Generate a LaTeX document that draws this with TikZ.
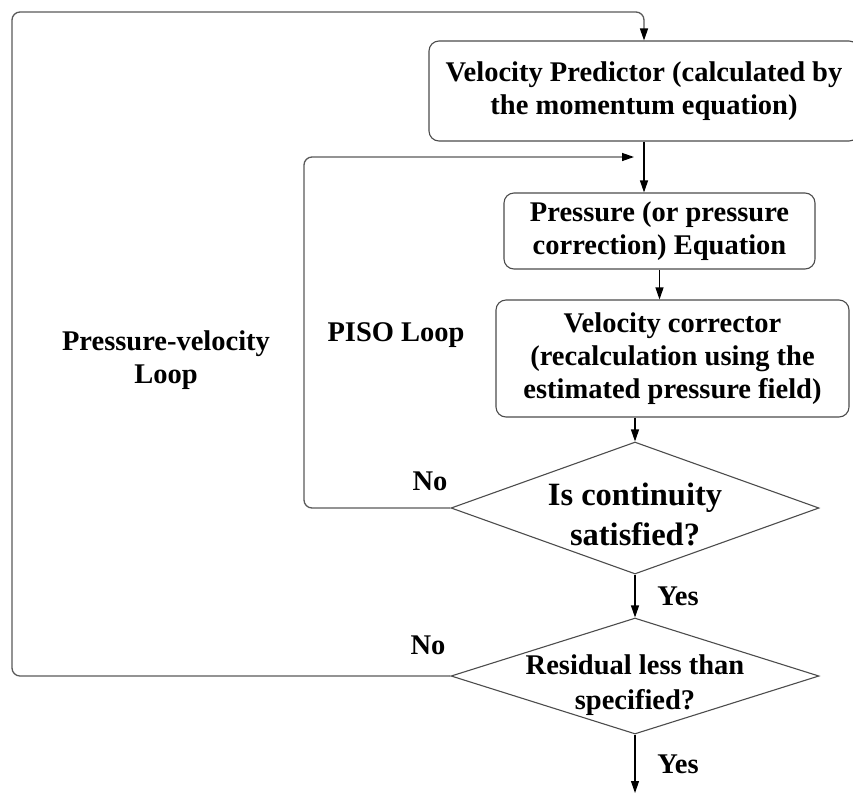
\documentclass[tikz,border=0pt]{standalone}
\usepackage{fontspec}
\setmainfont{Liberation Serif}
\usetikzlibrary{arrows.meta,shapes.geometric}
\begin{document}
\begin{tikzpicture}[x=1pt,y=-1pt,
  txt/.style={font=\fontsize{28.5}{33}\selectfont\bfseries, align=center, inner sep=0pt},
  box/.style={txt, draw=black!70, line width=1.1pt, rounded corners=10pt},
  dia/.style={draw=black!70, line width=1.1pt, shape=diamond, inner sep=0pt},
  arr/.style={line width=1.1pt, -{Triangle[length=12pt,width=8pt,color=black]}},
  loopline/.style={draw=black!65, line width=1.3pt, rounded corners=8pt}]
\useasboundingbox (0,0) rectangle (853,793);

\node[box, minimum width=430pt, minimum height=100pt] (vp) at (644,91) {Velocity Predictor (calculated by\\the momentum equation)};
\node[box, minimum width=311pt, minimum height=76pt] (pr) at (659.5,231) {Pressure (or pressure\\correction) Equation};
\node[box, minimum width=353pt, minimum height=117pt] (vc) at (672.5,358.5) {Velocity corrector\\(recalculation using the\\estimated pressure field)};
\node[dia, minimum width=368pt, minimum height=132pt,
  label={[txt, font=\fontsize{32.5}{40}\selectfont\bfseries, yshift=-6pt]center:Is continuity\\satisfied?}] (d1) at (635,508) {};
\node[dia, minimum width=368pt, minimum height=116pt,
  label={[txt, font=\fontsize{28.5}{35}\selectfont\bfseries, yshift=-9pt]center:Residual less than\\specified?}] (d2) at (635,676) {};

\node[txt] (pvl) at (166,360.5) {Pressure-velocity\\Loop};
\node[txt] (pisol) at (396,335.5) {PISO Loop};
\node[txt] (no1) at (430,481) {No};
\node[txt] (no2) at (428,645) {No};
\node[txt] (yes1) at (678,596) {Yes};
\node[txt] (yes2) at (678,764) {Yes};

\coordinate (pisoc) at (304,157);
\coordinate (pisoend) at (634,157);
\coordinate (outerc) at (12,12);
\coordinate (fin) at (635,793);

\draw[arr] (vp.south) -- (vp.south |- pr.north);
\draw[arr] (pr.south) -- (pr.south |- vc.north);
\draw[arr] (vc.south -| d1.north) -- (d1.north);
\draw[arr] (d1.south) -- (d2.north);
\draw[arr] (d2.south) -- (fin);

\draw[arr, loopline] (d1.west) -| (pisoc) -- (pisoend);
\draw[arr, loopline] (d2.west) -| (outerc) -| (vp.north);
\end{tikzpicture}
\end{document}
